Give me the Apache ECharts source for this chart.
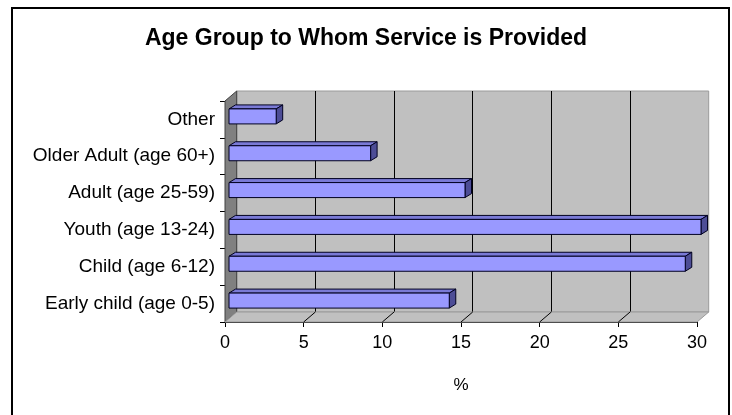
<!DOCTYPE html>
<html>
<head>
<meta charset="utf-8">
<script src="https://cdn.jsdelivr.net/npm/echarts@6/dist/echarts.min.js"></script>
<style>
html,body{margin:0;padding:0;background:#fff;}
#c{width:732px;height:415px;}
</style>
</head>
<body>
<div id="c"></div>
<script>
const categories = ['Other', 'Older Adult (age 60+)', 'Adult (age 25-59)', 'Youth (age 13-24)', 'Child (age 6-12)', 'Early child (age 0-5)'];
const values = [3, 9, 15, 30, 29, 14];
const xTicks = [0, 5, 10, 15, 20, 25, 30];

const FRONT = {left: 225, top: 101, width: 472, height: 221};
const DEPTH = {dx: 11.7, dy: -10};
const BACK = {left: FRONT.left + DEPTH.dx, top: FRONT.top + DEPTH.dy, width: FRONT.width, height: FRONT.height};
const FONT = 'Liberation Sans, Arial, sans-serif';

const chart = echarts.init(document.getElementById('c'));

function renderBar(params, api) {
  const v = api.value(0), ci = api.value(1);
  const p = api.coord([v, ci]);
  const p0 = api.coord([0, ci]);
  const h = 15, fx = 4, fy = -3, ddx = 6.5, ddy = -4;
  const x0 = p0[0] + fx, x1 = p[0] + fx;
  const yT = p[1] + fy - h / 2, yB = yT + h;
  const stroke = '#000020';
  return {
    type: 'group',
    children: [
      {type: 'polygon', shape: {points: [[x0, yT], [x1, yT], [x1 + ddx, yT + ddy], [x0 + ddx, yT + ddy]]},
        style: {fill: '#7a7ad6', stroke: stroke, lineWidth: 1}},
      {type: 'polygon', shape: {points: [[x1, yT], [x1 + ddx, yT + ddy], [x1 + ddx, yB + ddy], [x1, yB]]},
        style: {fill: '#4d4d96', stroke: stroke, lineWidth: 1}},
      {type: 'rect', shape: {x: x0, y: yT, width: x1 - x0, height: h},
        style: {fill: '#9999ff', stroke: stroke, lineWidth: 1}}
    ]
  };
}

const option = {
  animation: false,
  backgroundColor: '#ffffff',
  title: {
    text: 'Age Group to Whom Service is Provided',
    left: 'center', top: 22,
    textStyle: {fontFamily: FONT, fontSize: 23, fontWeight: 'bold', color: '#000'}
  },
  grid: [
    Object.assign({containLabel: false}, FRONT),
    Object.assign({containLabel: false, show: true, backgroundColor: '#c0c0c0', borderColor: '#9a9a9a', borderWidth: 1, z: 0}, BACK)
  ],
  xAxis: [
    {
      gridIndex: 0, type: 'value', min: xTicks[0], max: xTicks[xTicks.length - 1], interval: 5,
      axisLine: {show: true, lineStyle: {color: '#000', width: 1}},
      axisTick: {show: true, length: 5, lineStyle: {color: '#000'}},
      axisLabel: {color: '#000', fontFamily: FONT, fontSize: 18, margin: 12},
      splitLine: {show: false},
      name: '%', nameLocation: 'middle', nameGap: 55,
      nameTextStyle: {color: '#000', fontFamily: FONT, fontSize: 17}
    },
    {
      gridIndex: 1, type: 'value', min: xTicks[0], max: xTicks[xTicks.length - 1], interval: 5,
      axisLine: {show: false}, axisTick: {show: false}, axisLabel: {show: false},
      splitLine: {show: true, showMinLine: false, showMaxLine: false, lineStyle: {color: '#000', width: 1}},
      z: 0
    }
  ],
  yAxis: [
    {
      gridIndex: 0, type: 'category', data: categories, inverse: true,
      axisLine: {show: true, lineStyle: {color: '#000', width: 1}},
      axisTick: {show: true, length: 5, lineStyle: {color: '#000'}},
      axisLabel: {color: '#000', fontFamily: FONT, fontSize: 19, margin: 10},
      splitLine: {show: false}
    },
    {
      gridIndex: 1, type: 'category', data: categories, inverse: true,
      axisLine: {show: false}, axisTick: {show: false}, axisLabel: {show: false}, splitLine: {show: false}
    }
  ],
  series: [{
    type: 'custom', xAxisIndex: 0, yAxisIndex: 0, z: 10,
    renderItem: renderBar,
    encode: {x: 0, y: 1},
    data: values.map((v, i) => [v, i])
  }]
};
chart.setOption(option);

// walls and floor derived from axis positions
const yTop = FRONT.top, yBot = FRONT.top + FRONT.height;
const xL = FRONT.left, xR = FRONT.left + FRONT.width;
const els = [
  {type: 'polygon', z: 1, shape: {points: [[xL, yTop], [xL + DEPTH.dx, yTop + DEPTH.dy], [xL + DEPTH.dx, yBot + DEPTH.dy], [xL, yBot]]},
    style: {fill: '#808080', stroke: '#404040', lineWidth: 1}},
  {type: 'polygon', z: 1, shape: {points: [[xL, yBot], [xL + DEPTH.dx, yBot + DEPTH.dy], [xR + DEPTH.dx, yBot + DEPTH.dy], [xR, yBot]]},
    style: {fill: '#c0c0c0', stroke: '#9a9a9a', lineWidth: 1}}
];
xTicks.forEach(t => {
  if (t === xTicks[0] || t === xTicks[xTicks.length - 1]) return;
  const px = chart.convertToPixel({xAxisIndex: 0}, t);
  els.push({type: 'line', z: 2, shape: {x1: px, y1: yBot, x2: px + DEPTH.dx, y2: yBot + DEPTH.dy},
    style: {stroke: '#000', lineWidth: 1}});
});
els.push({type: 'rect', z: 20, shape: {x: 12, y: 8, width: 717, height: 430},
  style: {fill: null, stroke: '#000', lineWidth: 2}});
chart.setOption({graphic: {elements: els}});
</script>
</body>
</html>
